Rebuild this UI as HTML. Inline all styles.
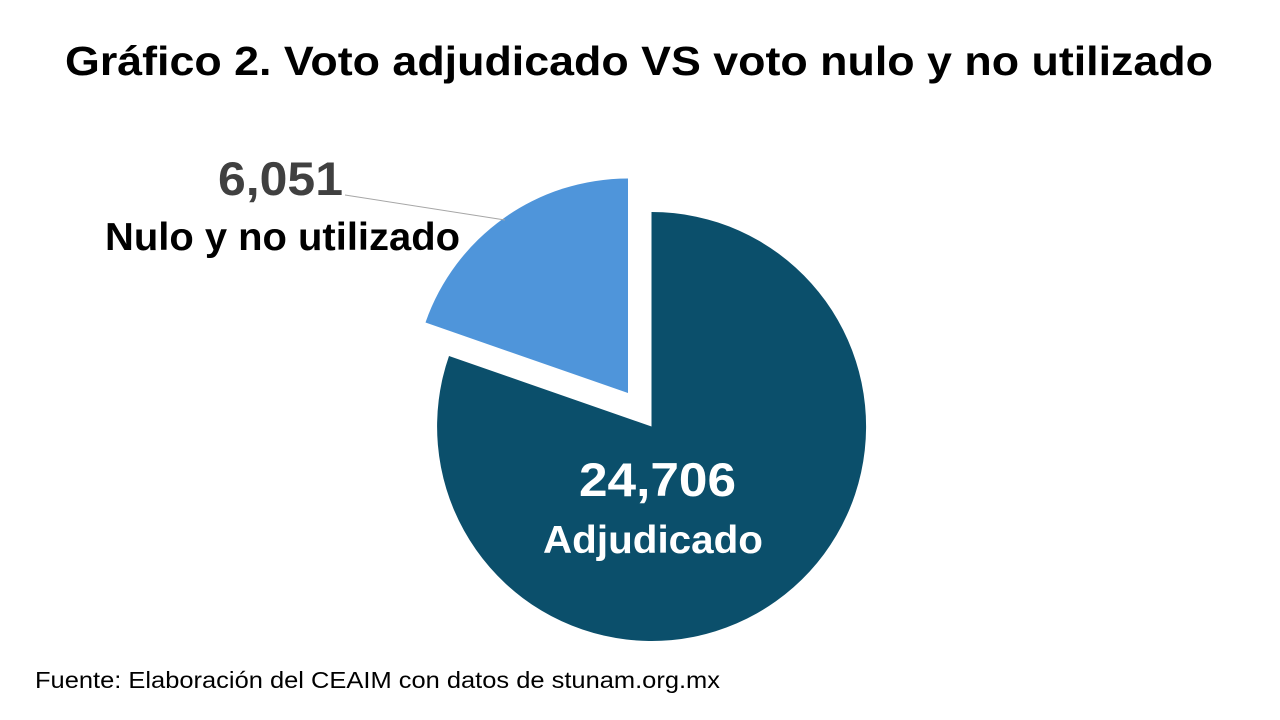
<!DOCTYPE html>
<html><head><meta charset="utf-8"><style>html,body{margin:0;padding:0;background:#fff}svg{display:block}</style></head>
<body>
<svg width="1280" height="720" viewBox="0 0 1280 720" xmlns="http://www.w3.org/2000/svg" font-family="Liberation Sans, sans-serif">
<rect width="1280" height="720" fill="#fff"/>
<text x="65" y="75" font-size="41" font-weight="bold" fill="#000" textLength="1148" lengthAdjust="spacingAndGlyphs">Gráfico 2. Voto adjudicado VS voto nulo y no utilizado</text>
<path d="M651.5,426.5 L651.5,212 A214.5,214.5 0 1 1 449,356 Z" fill="#0b4f6b"/>
<path d="M628,393 L425.5,322.5 A214.5,214.5 0 0 1 628,178.5 Z" fill="#4f95da"/>
<line x1="345" y1="195" x2="505" y2="220" stroke="#a6a6a6" stroke-width="1"/>
<text x="218" y="195" font-size="47" font-weight="bold" fill="#404040" textLength="125" lengthAdjust="spacingAndGlyphs">6,051</text>
<text x="105" y="250" font-size="39" font-weight="bold" fill="#000" textLength="355" lengthAdjust="spacingAndGlyphs">Nulo y no utilizado</text>
<text x="579" y="496" font-size="47" font-weight="bold" fill="#fff" textLength="157" lengthAdjust="spacingAndGlyphs">24,706</text>
<text x="543" y="553" font-size="39" font-weight="bold" fill="#fff" textLength="220" lengthAdjust="spacingAndGlyphs">Adjudicado</text>
<text x="35" y="688" font-size="23" fill="#000" textLength="685" lengthAdjust="spacingAndGlyphs">Fuente: Elaboración del CEAIM con datos de stunam.org.mx</text>
</svg>
</body></html>
